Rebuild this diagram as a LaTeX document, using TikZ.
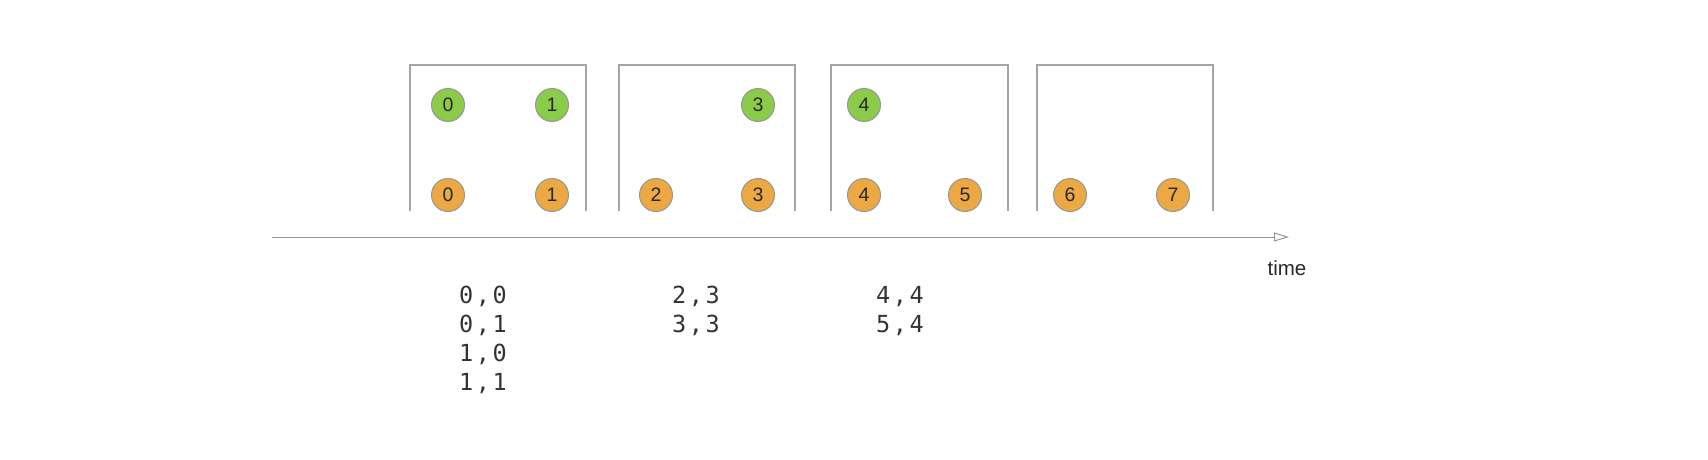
\documentclass[tikz,border=0pt]{standalone}
\usepackage{fontspec}
\setmainfont{Liberation Sans}
\newfontfamily\monof{DejaVu Sans Mono}
\usetikzlibrary{arrows.meta}
\definecolor{gr}{RGB}{139,203,74}
\definecolor{orn}{RGB}{235,168,67}
\definecolor{edge}{RGB}{150,150,150}
\definecolor{winc}{RGB}{165,165,165}
\definecolor{txt}{RGB}{40,40,40}
\newcommand{\pr}[2]{#1\hspace{2.6pt},\hspace{2.6pt}#2}
\tikzset{
 ball/.style={circle, draw=edge, line width=1pt, minimum size=33pt, inner sep=0pt, font=\fontsize{19.5}{19.5}\selectfont, text=txt},
 gball/.style={ball, fill=gr},
 oball/.style={ball, fill=orn},
 win/.style={draw=winc, line width=1.2pt},
 pair/.style={font=\monof\fontsize{23.5}{28.5}\selectfont, text=txt!95, anchor=base west, inner sep=0pt}
}
\begin{document}
\begin{tikzpicture}[x=1pt,y=-1pt]
\useasboundingbox (0,0) rectangle (1708,460);
% windows
\draw[win] (410,211) -- (410,65) -- (586,65) -- (586,211);
\draw[win] (619,211) -- (619,65) -- (795,65) -- (795,211);
\draw[win] (831,211) -- (831,65) -- (1008,65) -- (1008,211);
\draw[win] (1037,211) -- (1037,65) -- (1213,65) -- (1213,211);
% green
\node[gball] (g0) at (448,105) {0};
\node[gball] (g1) at (552,105) {1};
\node[gball] (g3) at (758,105) {3};
\node[gball] (g4) at (864,105) {4};
% orange
\node[oball] (o0) at (448,195) {0};
\node[oball] (o1) at (552,195) {1};
\node[oball] (o2) at (656,195) {2};
\node[oball] (o3) at (758,195) {3};
\node[oball] (o4) at (864,195) {4};
\node[oball] (o5) at (965,195) {5};
\node[oball] (o6) at (1070,195) {6};
\node[oball] (o7) at (1173,195) {7};
% axis
\coordinate (a0) at (272,237);
\coordinate (a1) at (1289,237);
\draw[edge, line width=1pt, -{Triangle[open, length=15pt, width=9pt]}] (a0) -- (a1);
\node[font=\fontsize{20.5}{20.5}\selectfont, text=txt] (time) at (1287,268) {time};
% pairs
\node[pair] (p1) at (459,303.4) {\pr{0}{0}};
\node[pair] (p2) at (459,332.4) {\pr{0}{1}};
\node[pair] (p3) at (459,361.4) {\pr{1}{0}};
\node[pair] (p4) at (459,390.4) {\pr{1}{1}};
\node[pair] (p5) at (672,303.4) {\pr{2}{3}};
\node[pair] (p6) at (672,332.4) {\pr{3}{3}};
\node[pair] (p7) at (876,303.4) {\pr{4}{4}};
\node[pair] (p8) at (876,332.4) {\pr{5}{4}};
\end{tikzpicture}
\end{document}
